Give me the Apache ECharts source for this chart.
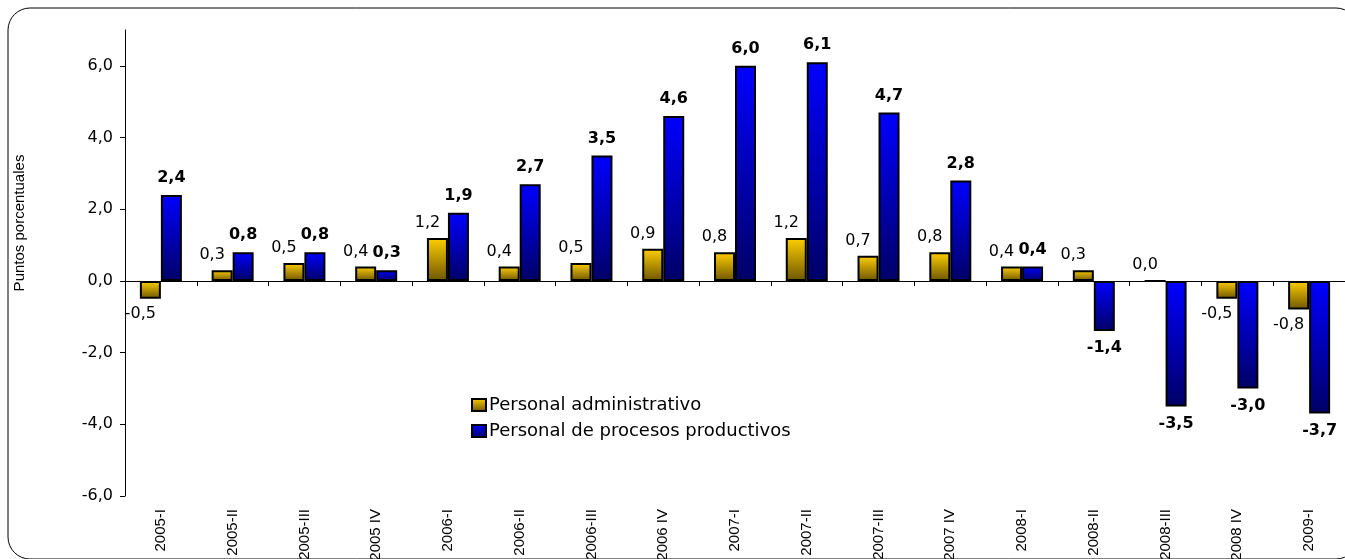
<!DOCTYPE html>
<html lang="es">
<head>
    <meta charset="UTF-8">
    <title>Puntos porcentuales</title>
    <script src="https://cdn.jsdelivr.net/npm/echarts@6/dist/echarts.min.js"></script>
    <style>
        html, body { margin: 0; padding: 0; background: #fff; }
        #main { width: 1345px; height: 559px; }
    </style>
</head>
<body>
    <div id="main"></div>
    <script>
        var categories = ['2005-I', '2005-II', '2005-III', '2005 IV', '2006-I', '2006-II', '2006-III', '2006 IV',
            '2007-I', '2007-II', '2007-III', '2007 IV', '2008-I', '2008-II', '2008-III', '2008 IV', '2009-I'];
        var administrativo = [-0.5, 0.3, 0.5, 0.4, 1.2, 0.4, 0.5, 0.9, 0.8, 1.2, 0.7, 0.8, 0.4, 0.3, 0.0, -0.5, -0.8];
        var productivos = [2.4, 0.8, 0.8, 0.3, 1.9, 2.7, 3.5, 4.6, 6.0, 6.1, 4.7, 2.8, 0.4, -1.4, -3.5, -3.0, -3.7];

        function coma(v) {
            return v.toFixed(1).replace('.', ',');
        }

        // negativos: etiqueta debajo de la barra
        function toData(arr) {
            return arr.map(function (v) {
                return { value: v, label: { position: v < 0 ? 'bottom' : 'top' } };
            });
        }

        var yellow = new echarts.graphic.LinearGradient(0, 0, 0, 1, [
            { offset: 0, color: '#ffd000' },
            { offset: 1, color: '#6e5500' }
        ]);
        var blue = new echarts.graphic.LinearGradient(0, 0, 0, 1, [
            { offset: 0, color: '#0000ff' },
            { offset: 1, color: '#000066' }
        ]);

        var option = {
            backgroundColor: '#fff',
            animation: false,
            graphic: [{
                type: 'rect',
                shape: { x: 8, y: 8, width: 1350, height: 551, r: 22 },
                style: { fill: 'none', stroke: '#000', lineWidth: 1 },
                silent: true
            }],
            legend: {
                orient: 'vertical',
                left: 466,
                top: 391,
                itemWidth: 14,
                itemHeight: 12,
                itemGap: 8,
                icon: 'rect',
                textStyle: { fontFamily: 'DejaVu Sans', fontSize: 18, color: '#000', padding: [0, 0, 0, -2] },
                data: ['Personal administrativo', 'Personal de procesos productivos']
            },
            grid: { left: 125, right: 0, top: 30, bottom: 63, outerBoundsMode: 'none' },
            xAxis: [{
                type: 'category',
                data: categories,
                axisLine: { onZero: true, lineStyle: { color: '#000', width: 1 } },
                axisTick: { show: true, length: 5, lineStyle: { color: '#000' } },
                axisLabel: { show: false }
            }, {
                type: 'category',
                data: categories,
                position: 'bottom',
                axisLine: { show: false, onZero: false },
                axisTick: { show: false },
                axisLabel: {
                    rotate: 90,
                    margin: 13,
                    fontFamily: 'Liberation Sans',
                    fontSize: 15,
                    color: '#000'
                }
            }],
            yAxis: {
                type: 'value',
                min: -6,
                max: 7,
                interval: 2,
                name: 'Puntos porcentuales',
                nameLocation: 'middle',
                nameGap: 98,
                nameTextStyle: { fontFamily: 'Liberation Sans', fontSize: 15, color: '#000', padding: [0, 0, 0, 80] },
                splitLine: { show: false },
                axisLine: { show: true, lineStyle: { color: '#000' } },
                axisTick: { show: true, length: 5, lineStyle: { color: '#000' } },
                axisLabel: {
                    showMaxLabel: false,
                    margin: 12,
                    fontFamily: 'DejaVu Sans',
                    fontSize: 16,
                    color: '#000',
                    formatter: function (v) { return v === 7 ? '' : coma(v); }
                }
            },
            series: [{
                name: 'Personal administrativo',
                type: 'bar',
                xAxisIndex: 0,
                barWidth: 21,
                barGap: '0%',
                itemStyle: { color: yellow, borderColor: '#000', borderWidth: 2 },
                label: {
                    show: true,
                    distance: 7,
                    offset: [-10, 0],
                    fontFamily: 'DejaVu Sans',
                    fontSize: 16,
                    color: '#000',
                    formatter: function (p) { return coma(p.value); }
                },
                data: toData(administrativo)
            }, {
                name: 'Personal de procesos productivos',
                type: 'bar',
                xAxisIndex: 0,
                barWidth: 21,
                barGap: '0%',
                itemStyle: { color: blue, borderColor: '#000', borderWidth: 2 },
                label: {
                    show: true,
                    distance: 9,
                    fontFamily: 'DejaVu Sans',
                    fontWeight: 'bold',
                    fontSize: 16,
                    color: '#000',
                    formatter: function (p) { return coma(p.value); }
                },
                data: toData(productivos)
            }]
        };

        var myChart = echarts.init(document.getElementById('main'));
        myChart.setOption(option);
    </script>
</body>
</html>
